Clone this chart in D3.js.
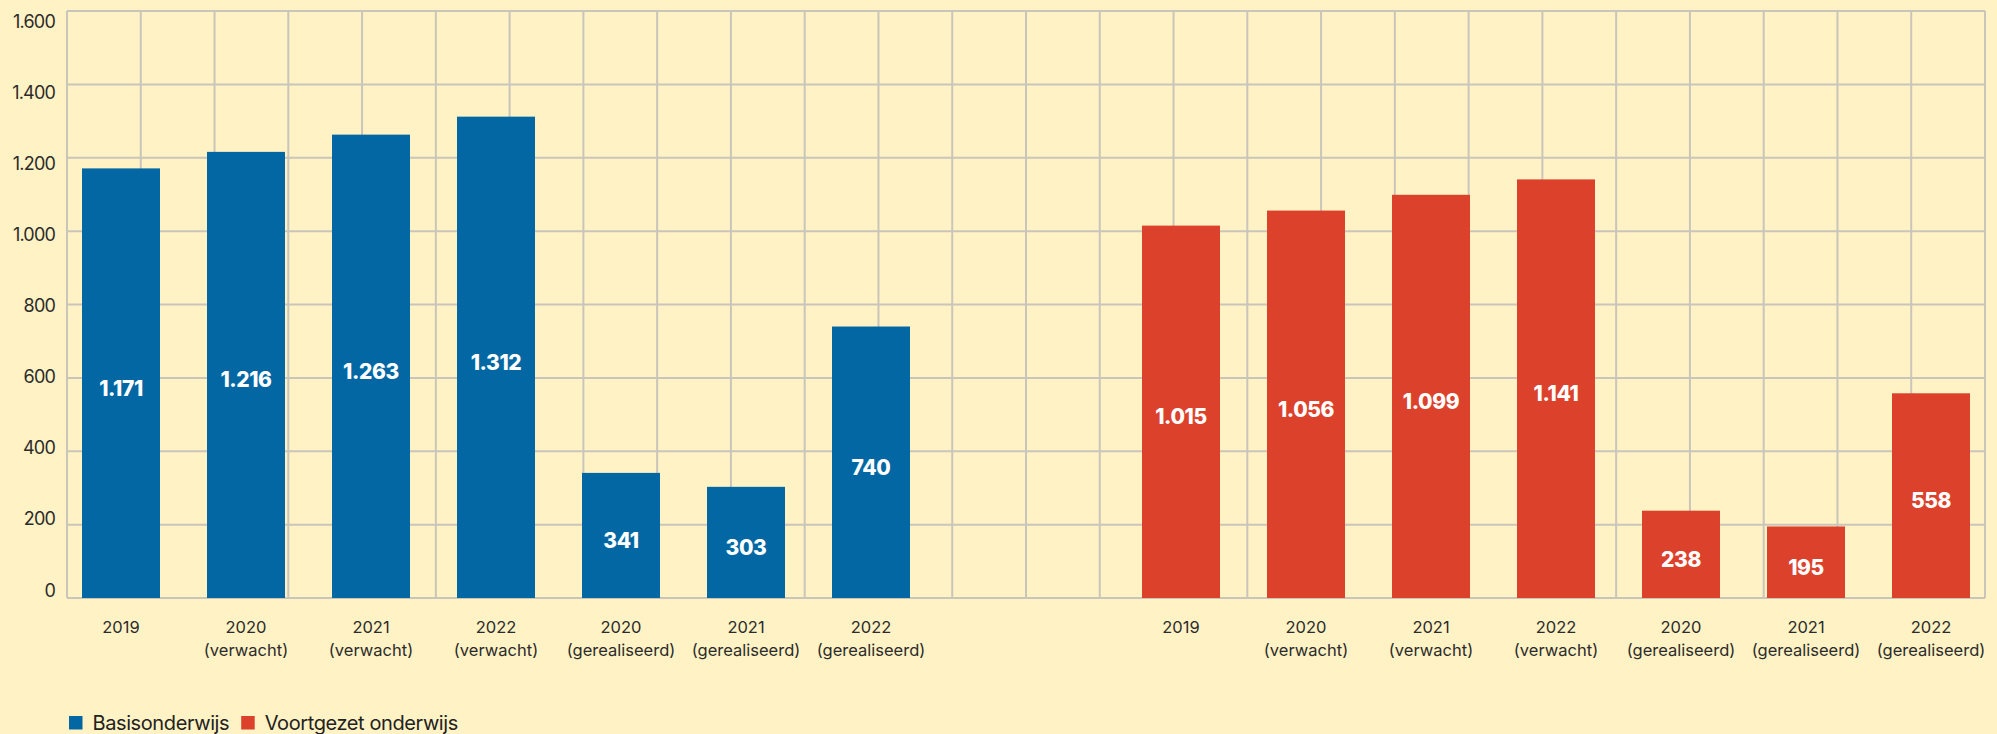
<!DOCTYPE html>
<html>
<head>
<meta charset="utf-8">
<script src="https://cdn.jsdelivr.net/npm/d3@7"></script>
<style>
  html, body { margin: 0; padding: 0; background: #fff2c4; }
  svg { display: block; }
  text { font-family: Inter, "Open Sans", sans-serif; }
</style>
</head>
<body>
<svg id="chart" width="1997" height="734"></svg>
<script>
// Categories (year + status line) shared by both school types
const years = ["2019", "2020", "2021", "2022", "2020", "2021", "2022"];
const status = ["", "(verwacht)", "(verwacht)", "(verwacht)", "(gerealiseerd)", "(gerealiseerd)", "(gerealiseerd)"];

// Series values
const basisonderwijs = [1171, 1216, 1263, 1312, 341, 303, 740];
const voortgezetOnderwijs = [1015, 1056, 1099, 1141, 238, 195, 558];

// Axis ticks and legend
const yTicks = [0, 200, 400, 600, 800, 1000, 1200, 1400, 1600];
const seriesNames = ["Basisonderwijs", "Voortgezet onderwijs"];
const seriesColors = ["#0267a3", "#dc412c"];

const nl = d3.formatLocale({ decimal: ",", thousands: ".", grouping: [3], currency: ["€", ""] });
const fmt = nl.format(",d");

const svg = d3.select("#chart");
const plot = { left: 67, right: 1985, top: 11, bottom: 598 };

const y = d3.scaleLinear().domain([0, 1600]).range([plot.bottom, plot.top]);
// tick labels sit on a slightly tighter ladder than the grid lines
const yLabel = d3.scaleLinear().domain([0, 1600]).range([plot.bottom - 8, plot.top + 10]);

const idx = d3.range(years.length);
const xBlue = d3.scalePoint().domain(idx).range([121, 871]);
const xRed = d3.scalePoint().domain(idx).range([1181, 1931]);
const barW = 78;

// grid
const gridColor = "#c9c5bb";
const nCols = 26;
const xGrid = d3.scaleLinear().domain([0, nCols]).range([plot.left, plot.right]);
const grid = svg.append("g");
grid.selectAll("line.v").data(d3.range(nCols + 1)).join("line")
  .attr("x1", d => xGrid(d)).attr("x2", d => xGrid(d))
  .attr("y1", plot.top).attr("y2", plot.bottom)
  .attr("stroke", gridColor).attr("stroke-width", 2);
grid.selectAll("line.h").data(yTicks).join("line")
  .attr("x1", plot.left).attr("x2", plot.right)
  .attr("y1", d => y(d)).attr("y2", d => y(d))
  .attr("stroke", gridColor).attr("stroke-width", 2);

// y tick labels
svg.append("g").selectAll("text").data(yTicks).join("text")
  .attr("x", 55).attr("y", d => yLabel(d))
  .attr("text-anchor", "end").attr("dominant-baseline", "central")
  .attr("font-size", 18).attr("letter-spacing", -0.8)
  .attr("fill", "#2b2b2b")
  .text(d => fmt(d));

function drawGroup(values, x, color) {
  const g = svg.append("g");
  g.selectAll("rect").data(values).join("rect")
    .attr("x", (d, i) => x(i) - barW / 2)
    .attr("y", d => y(d))
    .attr("width", barW)
    .attr("height", d => y(0) - y(d))
    .attr("fill", color);
  g.selectAll("text.val").data(values).join("text")
    .attr("class", "val")
    .attr("x", (d, i) => x(i))
    .attr("y", d => (y(d) + y(0)) / 2 + 5)
    .attr("text-anchor", "middle").attr("dominant-baseline", "central")
    .attr("font-size", 21).attr("font-weight", 800).attr("letter-spacing", -0.4)
    .attr("fill", "#ffffff")
    .text(d => fmt(d));
  const lab = g.selectAll("text.cat").data(idx).join("text")
    .attr("class", "cat")
    .attr("text-anchor", "middle")
    .attr("font-size", 16.5).attr("fill", "#2b2b2b");
  lab.append("tspan").attr("x", i => x(i)).attr("y", 633).text(i => years[i]);
  lab.append("tspan").attr("x", i => x(i)).attr("y", 656).text(i => status[i]);
}

drawGroup(basisonderwijs, xBlue, seriesColors[0]);
drawGroup(voortgezetOnderwijs, xRed, seriesColors[1]);

// legend
const legend = svg.append("g").attr("transform", "translate(69,716)");
let lx = 0;
seriesNames.forEach((name, i) => {
  legend.append("rect").attr("x", lx).attr("y", 0).attr("width", 13.5).attr("height", 13.5)
    .attr("fill", seriesColors[i]);
  const t = legend.append("text").attr("x", lx + 23.5).attr("y", 14)
    .attr("font-size", 20).attr("letter-spacing", -0.4).attr("fill", "#222")
    .text(name);
  lx += 23.5 + t.node().getComputedTextLength() + 12;
});
</script>
</body>
</html>
